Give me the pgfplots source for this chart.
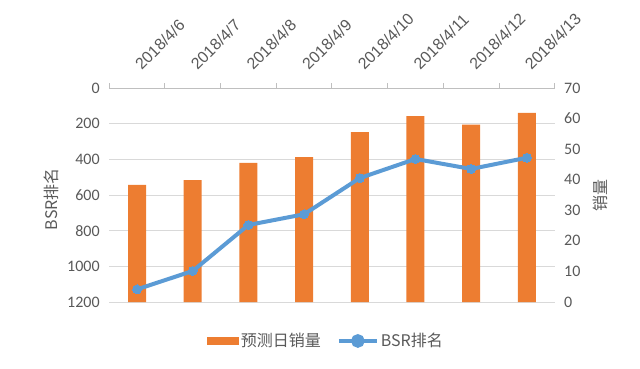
\documentclass[border=0pt]{standalone}
\usepackage{fontspec}
\setmainfont{Carlito}
\newfontfamily\cjk{Noto Sans CJK SC}
\newfontfamily\datefont{Liberation Sans}
\usepackage{pgfplots}
\pgfplotsset{compat=1.18}
\definecolor{barorange}{HTML}{ED7D31}
\definecolor{lineblue}{HTML}{5B9BD5}
\definecolor{txtgray}{HTML}{595959}
\definecolor{gridgray}{HTML}{D9D9D9}
\definecolor{axisgray}{HTML}{BFBFBF}
\pgfplotsset{
  barlegend/.style={legend image code/.code={\fill[barorange] (0pt,-3.5pt) rectangle (31pt,3.5pt);}},
  linelegend/.style={legend image code/.code={\draw[lineblue, line width=4pt] (0pt,0pt) -- (38pt,0pt); \fill[lineblue] (19pt,0pt) circle (4.8pt);}},
  common/.style={
    at={(109.2pt,66pt)}, anchor=south west,
    scale only axis, width=445.5pt, height=214pt,
    xmin=-0.5, xmax=7.5,
    /pgf/number format/assume math mode=true,
    /pgf/number format/1000 sep={},
    tick label style={font=\fontsize{16}{19}\selectfont, text=txtgray},
    label style={font=\cjk\fontsize{16}{19}\selectfont, text=txtgray},
  }
}
\begin{document}
\begin{tikzpicture}[font=\fontsize{16}{19}\selectfont, text=txtgray]
\path[use as bounding box] (0,0) rectangle (640pt,368pt);
% axis 1: left scale with grid
\begin{axis}[common,
  ymin=0, ymax=1200, y dir=reverse,
  ytick={0,200,...,1200},
  axis y line*=left, y axis line style={draw=none},
  hide x axis,
  major tick length=0pt,
  ymajorgrids, grid style={gridgray, line width=1pt},
  yticklabel style={xshift=-6pt},
  ylabel={BSR排名},
  ylabel style={at={(axis description cs:-0.1306,0.48)}, anchor=center},
]
\addplot[draw=none] coordinates {(0,0)};
\end{axis}
% axis 2: bars, right scale, top x axis
\begin{axis}[common,
  ymin=0, ymax=70,
  ytick={0,10,...,70},
  axis y line*=right, y axis line style={draw=none},
  axis x line*=top, x axis line style={axisgray, line width=1pt},
  xtick={0,...,7},
  xticklabels={2018/4/6,2018/4/7,2018/4/8,2018/4/9,2018/4/10,2018/4/11,2018/4/12,2018/4/13},
  xticklabel style={font=\datefont\fontsize{16}{19}\selectfont, inner sep=0pt, xshift=5pt, yshift=17pt, rotate=45, anchor=south west},
  major tick length=0pt,
  minor xtick={-0.5,0.5,...,7.5},
  minor tick length=5pt, tick align=outside,
  minor tick style={axisgray, line width=1pt},
  yticklabel style={xshift=6pt},
  ylabel={销量},
  ylabel style={at={(axis description cs:1.1017,0.5)}, anchor=center},
  ybar, bar width=18pt,
]
\addplot[fill=barorange, draw=none] coordinates {
  (0,38.3) (1,39.9) (2,45.5) (3,47.4) (4,55.6) (5,60.8) (6,58.0) (7,61.9)};
\end{axis}
% axis 3: line
\begin{axis}[common,
  ymin=0, ymax=1200, y dir=reverse,
  hide axis,
  legend columns=2,
  legend style={draw=none, fill=none, at={(axis description cs:0.487,-0.182)}, anchor=center,
    font=\cjk\fontsize{16}{19}\selectfont, text=txtgray,
    /tikz/every even column/.append style={column sep=14pt},
    inner sep=0pt, row sep=0pt},
  legend cell align=left,
]
\addlegendimage{barlegend}
\addlegendentry{预测日销量}
\addplot[lineblue, line width=4pt, mark=*, mark size=4.5pt, mark options={fill=lineblue, draw=lineblue, line width=0pt}, linelegend]
  coordinates {(0,1129) (1,1026) (2,768) (3,708) (4,505) (5,398) (6,454) (7,391)};
\addlegendentry{BSR排名}
\end{axis}
\end{tikzpicture}
\end{document}
